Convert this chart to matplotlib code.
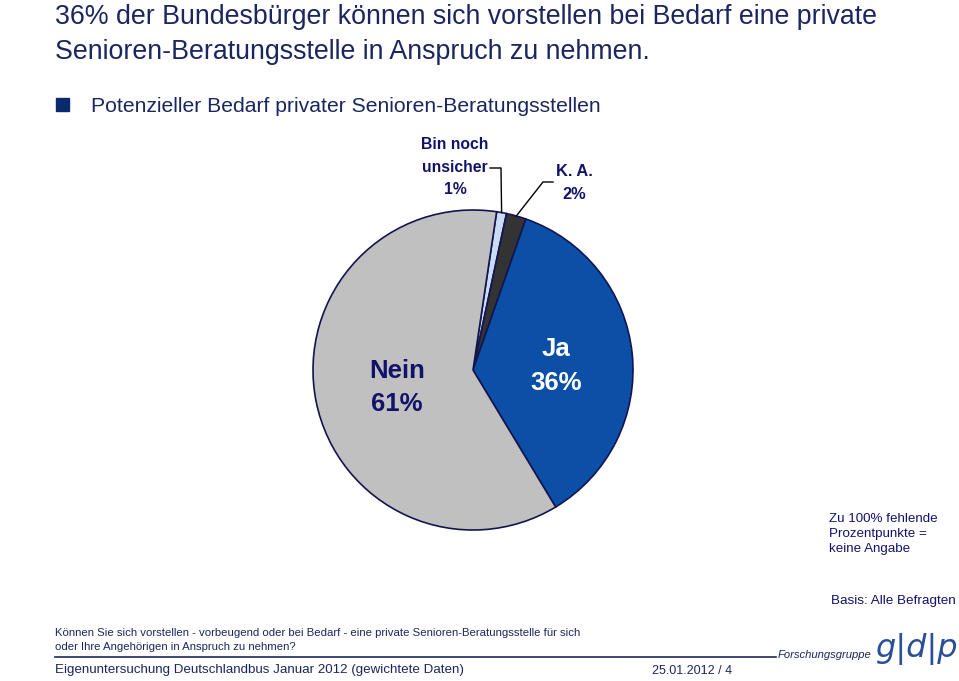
import numpy as np
import matplotlib
matplotlib.use("Agg")
import matplotlib.pyplot as plt
from matplotlib.lines import Line2D
from matplotlib.patches import Rectangle

plt.rcParams['font.family'] = ['Liberation Sans', 'DejaVu Sans']

# data
labels = ["Bin noch unsicher", "K. A.", "Ja", "Nein"]
values = [1, 2, 36, 61]
colors = ["#c8dcf6", "#333333", "#0b50a6", "#c0c0c0"]

W, H = 959, 681
navy = "#1b2660"
txt_navy = "#12126b"

fig = plt.figure(figsize=(W / 100, H / 100), dpi=100)


def fx(x):
    return x / W


def fy(y):
    return 1 - y / H


# title
fig.text(fx(55), fy(17), "36% der Bundesbürger können sich vorstellen bei Bedarf eine private",
         fontsize=19.3, color=navy, va="center", ha="left")
fig.text(fx(55), fy(52), "Senioren-Beratungsstelle in Anspruch zu nehmen.",
         fontsize=19.3, color=navy, va="center", ha="left")
fig.patches.append(Rectangle((fx(56), fy(111)), 13 / W, 13 / H, transform=fig.transFigure,
                             color="#0a2a6e", figure=fig))
fig.text(fx(91), fy(106), "Potenzieller Bedarf privater Senioren-Beratungsstellen",
         fontsize=15.2, color=navy, va="center", ha="left")

# pie
R = 160
cx, cy = 473, 370
ax = fig.add_axes([fx(cx - R), fy(cy + R), 2 * R / W, 2 * R / H])
wedges, _ = ax.pie(values, colors=colors, startangle=81.5, counterclock=False,
                   wedgeprops=dict(edgecolor="#141450", linewidth=1.2))
ax.set_xlim(-1, 1)
ax.set_ylim(-1, 1)
ax.set_aspect("equal")
ax.axis("off")

ax.text(-0.475, -0.11, "Nein\n61%", fontsize=18.5, fontweight="bold", color=txt_navy,
        ha="center", va="center", linespacing=1.5)
ax.text(0.52, 0.025, "Ja\n36%", fontsize=18.5, fontweight="bold", color="white",
        ha="center", va="center", linespacing=1.5)


def edge_point(w):
    t = np.deg2rad((w.theta1 + w.theta2) / 2)
    p = ax.transData.transform((np.cos(t), np.sin(t)))
    return fig.transFigure.inverted().transform(p)


# leader lines
p1 = edge_point(wedges[0])
fig.lines.append(Line2D([fx(490), fx(501), p1[0]], [fy(168), fy(168), p1[1]],
                        transform=fig.transFigure, color="black", lw=1, figure=fig))
p2 = edge_point(wedges[1])
fig.lines.append(Line2D([fx(553), fx(543), p2[0]], [fy(182), fy(182), p2[1]],
                        transform=fig.transFigure, color="black", lw=1, figure=fig))

fig.text(fx(455), fy(167), "Bin noch\nunsicher\n%d%%" % values[0], fontsize=11.3, fontweight="bold",
         color=txt_navy, ha="center", va="center", linespacing=1.6)
fig.text(fx(574), fy(183), "K. A.\n%d%%" % values[1], fontsize=11.8, fontweight="bold",
         color=txt_navy, ha="center", va="center", linespacing=1.6)

# notes
fig.text(fx(829), fy(534), "Zu 100% fehlende\nProzentpunkte =\nkeine Angabe", fontsize=9.6,
         color=txt_navy, ha="left", va="center", linespacing=1.3)
fig.text(fx(831), fy(601), "Basis: Alle Befragten", fontsize=9.7, color=txt_navy,
         ha="left", va="center")

# footer
fig.text(fx(55), fy(640), "Können Sie sich vorstellen - vorbeugend oder bei Bedarf - eine private "
         "Senioren-Beratungsstelle für sich\noder Ihre Angehörigen in Anspruch zu nehmen?",
         fontsize=8.2, color=navy, ha="left", va="center", linespacing=1.45)
fig.lines.append(Line2D([fx(55), fx(776)], [fy(657), fy(657)], transform=fig.transFigure,
                        color=navy, lw=1.2, figure=fig))
fig.text(fx(55), fy(670), "Eigenuntersuchung Deutschlandbus Januar 2012 (gewichtete Daten)",
         fontsize=9.6, color=navy, ha="left", va="center")
fig.text(fx(652), fy(671), "25.01.2012 / 4", fontsize=9, color=navy, ha="left", va="center")
fig.text(fx(778), fy(655), "Forschungsgruppe", fontsize=8.1, style="italic", color=navy,
         ha="left", va="center")
fig.text(fx(876), fy(657), "g|d|p", fontsize=23, color="#2b4e98", ha="left", va="baseline",
         family="DejaVu Sans", style="italic", fontweight="light")

fig.savefig("out.png", dpi=100)
